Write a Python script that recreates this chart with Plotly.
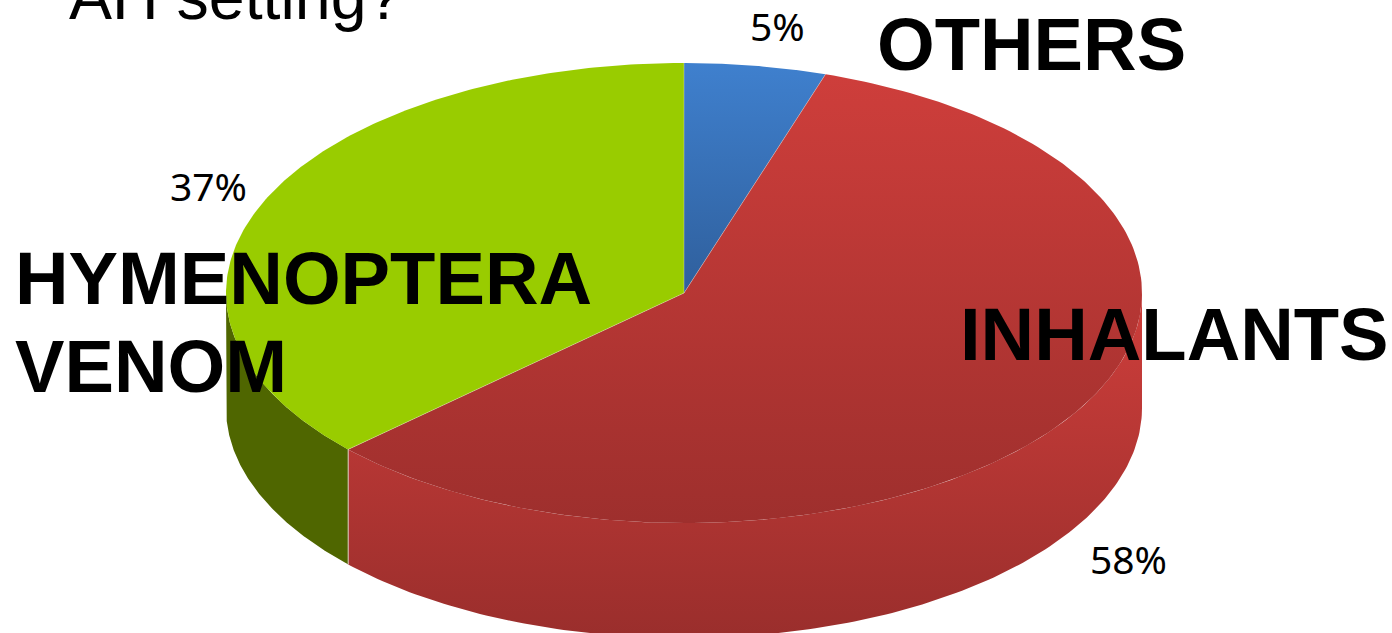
import numpy as np
import plotly.graph_objects as go

# Data
categories = ["OTHERS", "INHALANTS", "HYMENOPTERA VENOM"]
shares = [5.0, 58.1, 36.9]
top_colors = [["#3F80CE", "#2F5F9C"], ["#CE3E3B", "#9E2F2D"], ["#99CC00", "#99CC00"]]
side_colors = [None, ["#CE3E3B", "#9A2E2C"], ["#4F6600", "#4F6600"]]

# Projection of the disc on the page
CX, CY, RX, RY, DEPTH = 684, 293, 458, 230, 115


def px(a):
    return CX + RX * np.sin(a)


def py(a):
    return CY - RY * np.cos(a)


def scale(c):
    # the vertical gradient runs from the bottom of the shape to its top on this flipped axis
    return [[0, c[1]], [1, c[0]]]


fig = go.Figure()
edges = np.cumsum([0] + shares) / sum(shares) * 2 * np.pi

# Sides (visible lower half only)
for i, c in enumerate(side_colors):
    lo, hi = max(edges[i], np.pi / 2), min(edges[i + 1], 3 * np.pi / 2)
    if c is None or lo >= hi:
        continue
    a = np.linspace(lo, hi, 160)
    xs = np.r_[px(a), px(a[::-1])]
    ys = np.r_[py(a), py(a[::-1]) + DEPTH]
    fig.add_trace(go.Scatter(
        x=np.r_[xs, xs[0]], y=np.r_[ys, ys[0]], mode="lines", line=dict(width=0),
        fill="toself", fillcolor=c[0],
        fillgradient=dict(type="vertical", colorscale=scale(c)),
        hoverinfo="skip", showlegend=False))

# Tops
for i, c in enumerate(top_colors):
    a = np.linspace(edges[i], edges[i + 1], 200)
    xs = np.r_[CX, px(a), CX]
    ys = np.r_[CY, py(a), CY]
    fig.add_trace(go.Scatter(
        x=xs, y=ys, mode="lines", line=dict(width=0), name=categories[i],
        fill="toself", fillcolor=c[0],
        fillgradient=dict(type="vertical", colorscale=scale(c)),
        hoverinfo="skip", showlegend=False))

# Thin pale seams at slice boundaries
seam = "rgba(235,235,225,0.8)"
for e in edges[:-1]:
    fig.add_trace(go.Scatter(x=[CX, px(e)], y=[CY, py(e)], mode="lines",
                             line=dict(width=1, color="rgba(235,235,225,0.35)"),
                             hoverinfo="skip", showlegend=False))
fig.add_trace(go.Scatter(x=[px(edges[2])] * 2, y=[py(edges[2]), py(edges[2]) + DEPTH], mode="lines",
                         line=dict(width=1, color=seam), hoverinfo="skip", showlegend=False))

BOLD = dict(family="Liberation Sans", size=74.2, color="#000000")
PCT = dict(family="Noto Sans", size=39, color="#000000")


def note(text, x, y, font, xanchor="left", yanchor="middle"):
    fig.add_annotation(x=x, y=y, xref="x", yref="y", text=text, showarrow=False, font=font,
                       xanchor=xanchor, yanchor=yanchor, borderpad=0, borderwidth=0)


note("AH setting?", 69, 33, dict(family="Liberation Sans", size=64.5, color="#000000"), yanchor="bottom")
note(f"<b>{categories[0]}</b>", 877, 44, BOLD)
note(f"<b>{categories[1]}</b>", 960, 334, BOLD)
note("<b>HYMENOPTERA</b>", 15, 278, BOLD)
note("<b>VENOM</b>", 15, 366, BOLD)
note(f"{shares[0]:.0f}%", 777, 25, PCT, xanchor="center")
note(f"{shares[1]:.0f}%", 1128, 558, PCT, xanchor="center")
note(f"{shares[2]:.0f}%", 208, 185, PCT, xanchor="center")

fig.update_layout(
    width=1392, height=633, margin=dict(l=0, r=0, t=0, b=0, pad=0),
    paper_bgcolor="white", plot_bgcolor="white", showlegend=False,
    xaxis=dict(range=[0, 1392], visible=False, fixedrange=True),
    yaxis=dict(range=[633, 0], visible=False, fixedrange=True),
)
fig.write_html("out.html", post_script="document.body.style.margin='0';",
               config=dict(displayModeBar=False))
